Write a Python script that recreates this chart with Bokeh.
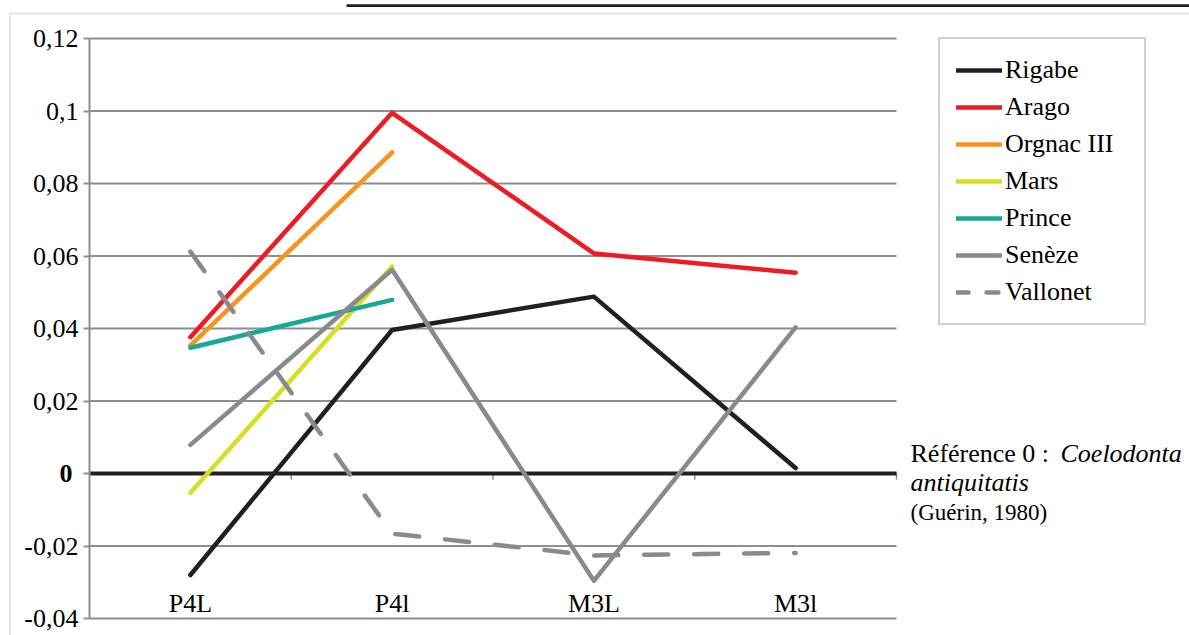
from bokeh.plotting import figure
from bokeh.models import Range1d, FixedTicker, Legend, LegendItem, Label, BoxAnnotation
from bokeh.core.properties import value
from bokeh.embed import file_html
from bokeh.resources import INLINE

# ---- data ----
categories = ["P4L", "P4l", "M3L", "M3l"]
rigabe = [-0.028, 0.0396, 0.0488, 0.0015]
arago = [0.0376, 0.0995, 0.0607, 0.0554]
orgnac = [0.0353, 0.0886]
mars = [-0.0053, 0.0571]
prince = [0.0347, 0.0479]
seneze = [0.0079, 0.0562, -0.0296, 0.0403]
vallonet = [0.0612, -0.0166, -0.0226, -0.0219]
series_names = ["Rigabe", "Arago", "Orgnac III", "Mars", "Prince", "Senèze", "Vallonet"]
y_ticks = [-0.04, -0.02, 0, 0.02, 0.04, 0.06, 0.08, 0.1, 0.12]
y_tick_labels = ["-0,04", "-0,02", "0", "0,02", "0,04", "0,06", "0,08", "0,1", "0,12"]
note_lines = ["Référence 0 : ", "Coelodonta", "antiquitatis", "(Guérin, 1980)"]

series_values = [rigabe, arago, orgnac, mars, prince, seneze, vallonet]
colors = ["#231f20", "#ed1c24", "#f7941d", "#d7df23", "#16a99a", "#8a8a8c", "#8a8a8c"]
dashes = ["solid"] * 6 + ["24 26"]
legend_dashes = ["solid"] * 6 + ["12 18"]

FONT = "Liberation Serif"
FS = "26px"
GRID = "#8e8e8e"
W, H = 1189, 635
NAN = float("nan")

# ---- page geometry of the plotting area (pixels) ----
PX_LEFT = 89.0          # x pixel of the value axis
PX_CAT = 201.75         # pixel width of one category
PX_ZERO = 473.0         # y pixel of value 0
PX_PER_UNIT = 3625.0    # pixels per unit of value


def X(px):
    return (px - PX_LEFT) / PX_CAT


def Y(py):
    return (PX_ZERO - py) / PX_PER_UNIT


p = figure(width=W, height=H, x_range=Range1d(X(0), X(W)), y_range=Range1d(Y(H), Y(0)),
           output_backend="svg", toolbar_location=None, x_axis_location=None,
           min_border=0)
p.outline_line_color = None
p.background_fill_color = "white"
p.border_fill_color = "white"
p.xgrid.visible = False
p.ygrid.visible = False

yax = p.yaxis[0]
yax.fixed_location = 0
yax.bounds = (y_ticks[0], y_ticks[-1])
yax.ticker = FixedTicker(ticks=y_ticks)
yax.major_label_overrides = {t: ("" if t == 0 else lab) for t, lab in zip(y_ticks, y_tick_labels)}
yax.major_label_text_font = FONT
yax.major_label_text_font_size = FS
yax.major_label_text_color = "black"
yax.major_label_standoff = 5
yax.axis_line_color = GRID
yax.axis_line_width = 2
yax.major_tick_line_color = GRID
yax.major_tick_line_width = 2
yax.major_tick_out = 6
yax.major_tick_in = 0
yax.minor_tick_out = 0
yax.minor_tick_in = 0

ncat = len(categories)
# horizontal grid lines across the category area
p.segment(x0=[0] * len(y_ticks), x1=[ncat] * len(y_ticks), y0=y_ticks, y1=y_ticks,
          line_color=GRID, line_width=2)
# small category-boundary ticks under the zero line
bounds = list(range(1, ncat + 1))
p.segment(x0=bounds, y0=[0] * ncat, x1=bounds, y1=[-0.0017] * ncat,
          line_color=GRID, line_width=1.5)
# zero reference line
p.segment(x0=[0], x1=[ncat], y0=[0], y1=[0], line_color="#231f20", line_width=4)

items = []
for name, vals, col, dsh, ldsh in zip(series_names, series_values, colors, dashes, legend_dashes):
    xs = [i + 0.5 for i in range(len(vals))]
    r = p.line(xs, vals, line_color=col, line_width=4.5, line_cap="round",
               line_join="round", line_dash=dsh)
    if ldsh != dsh:
        # legend swatch with the shorter dash pattern seen in the legend (draws nothing in the plot)
        r = p.line([NAN], [NAN], line_color=col, line_width=4.5, line_cap="round", line_dash=ldsh)
    items.append(LegendItem(label=name, renderers=[r]))

# category labels
p.text(x=[i + 0.5 for i in range(ncat)], y=[Y(603)] * ncat,
       text=categories, text_align="center", text_baseline="middle",
       text_font=value(FONT), text_font_size=FS, text_color="black")

legend = Legend(items=items, location=(938, H - 38 - 287), margin=0, padding=16,
                title_standoff=0,
                label_text_font=FONT, label_text_font_size=FS, label_text_color="black",
                glyph_width=46, glyph_height=30, label_height=30, label_width=123,
                label_standoff=3, spacing=7,
                border_line_color="#a0a0a0", border_line_width=2.5,
                background_fill_color="white", background_fill_alpha=1)
p.add_layout(legend)

# bold zero label
p.add_layout(Label(x=0, y=0, x_offset=-17, text="0", text_align="right",
                   text_baseline="middle", text_font=FONT, text_font_size=FS,
                   text_font_style="bold", text_color="black"))

# reference note
note_kw = dict(x=ncat, y=0, text_baseline="middle", text_font=FONT, text_color="black")
p.add_layout(Label(x_offset=14, y_offset=20, text=note_lines[0], text_font_size=FS, **note_kw))
p.add_layout(Label(x_offset=164, y_offset=20, text=note_lines[1], text_font_size=FS,
                   text_font_style="italic", **note_kw))
p.add_layout(Label(x_offset=14, y_offset=-9, text=note_lines[2], text_font_size=FS,
                   text_font_style="italic", **note_kw))
p.add_layout(Label(x_offset=14, y_offset=-39, text=note_lines[3], text_font_size="23px", **note_kw))

# outer chart border and top rule
p.add_layout(BoxAnnotation(left=X(9.5), right=X(W + 20), top=Y(13), bottom=Y(H + 20),
                           fill_alpha=0, line_color="#a6a6a6", line_width=2))
p.add_layout(BoxAnnotation(left=X(346), right=X(W + 20), top=Y(3.8), bottom=Y(6.5),
                           fill_color="#231f20", fill_alpha=1, line_alpha=0))

open("out.html", "w").write(file_html(p, INLINE))
